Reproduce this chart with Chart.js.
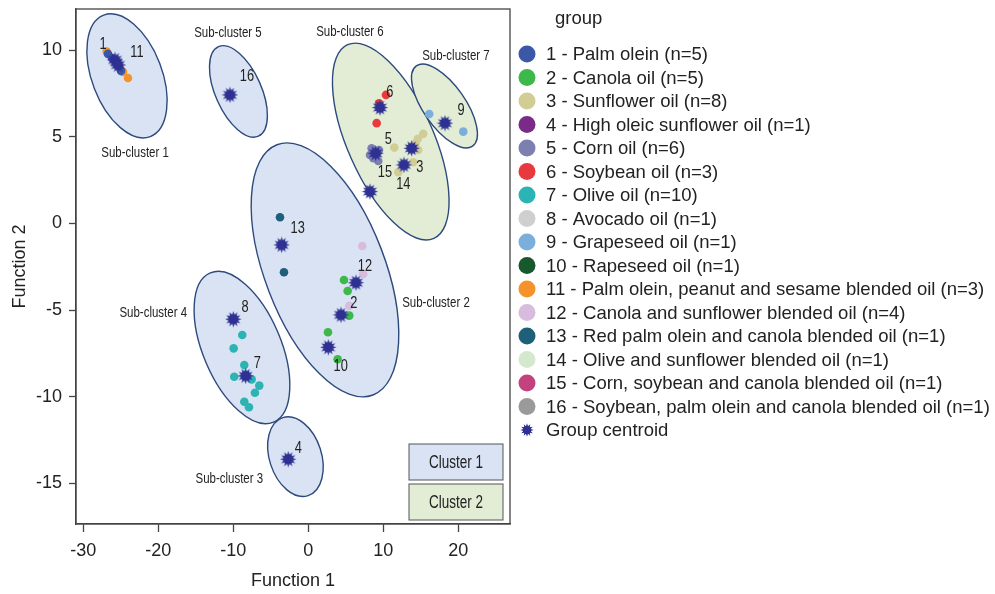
<!DOCTYPE html>
<html><head><meta charset="utf-8">
<script src="https://cdn.jsdelivr.net/npm/chart.js@4.4.1/dist/chart.umd.min.js"></script>
<style>html,body{margin:0;padding:0;background:#fff;}#wrap{width:995px;height:594px;position:relative;}</style>
</head><body><div id="wrap"><canvas id="c"></canvas></div>
<script>
// ---------- DATA ----------
const groupLabels = [
  '1 - Palm olein (n=5)', '2 - Canola oil (n=5)', '3 - Sunflower oil (n=8)',
  '4 - High oleic sunflower oil (n=1)', '5 - Corn oil (n=6)', '6 - Soybean oil (n=3)',
  '7 - Olive oil (n=10)', '8 - Avocado oil (n=1)', '9 - Grapeseed oil (n=1)',
  '10 - Rapeseed oil (n=1)', '11 - Palm olein, peanut and sesame blended oil (n=3)',
  '12 - Canola and sunflower blended oil (n=4)', '13 - Red palm olein and canola blended oil (n=1)',
  '14 - Olive and sunflower blended oil (n=1)', '15 - Corn, soybean and canola blended oil (n=1)',
  '16 - Soybean, palm olein and canola blended oil (n=1)'
];
const centroidLabel = 'Group centroid';

const g01 = [[-26.71,9.79],[-26.17,9.55],[-25.64,9.32],[-25.24,9.04],[-24.97,8.81]];
const g02 = [[4.76,-3.26],[5.25,-3.90],[5.47,-5.32],[2.63,-6.28],[3.92,-7.84]];
const g03 = [[15.33,5.17],[14.59,4.88],[14.32,4.63],[14.67,4.24],[11.47,4.38],[14.00,3.53],[12.00,2.96],[13.79,4.34]];
const g04 = [[-2.67,-13.61]];
const g05 = [[8.45,4.34],[9.43,4.24],[8.67,3.76],[9.33,3.61],[8.23,3.95],[8.99,4.05]];
const g06 = [[10.36,7.42],[9.43,6.94],[9.12,5.79]];
const g07 = [[-8.80,-6.44],[-9.95,-7.21],[-8.53,-8.17],[-9.87,-8.85],[-7.55,-9.00],[-6.53,-9.36],[-7.11,-9.77],[-8.53,-10.29],[-7.91,-10.61],[-8.35,-8.80]];
const g08 = [[-10.00,-5.53]];
const g09 = [[16.13,6.32],[20.67,5.30]];
const g10 = [[2.67,-7.15]];
const g11 = [[-26.88,9.92],[-24.71,8.75],[-24.04,8.40]];
const g12 = [[7.20,-1.30],[7.33,-2.92],[5.47,-4.75],[6.36,-3.42]];
const g13 = [[-3.77,0.36],[-3.24,-2.82]];
const g14 = [[12.76,3.38]];
const g15 = [[8.23,1.84]];
const g16 = [[-10.44,7.42]];
const groupData = [g01,g02,g03,g04,g05,g06,g07,g08,g09,g10,g11,g12,g13,g14,g15,g16];

const centroidX = [-25.77, 4.36, 13.79, -2.67, 8.99, 9.56, -8.35, -10.00, 18.23, 2.67, -25.37, 6.36, -3.55, 12.76, 8.23, -10.44];
const centroidY = [9.44, -5.28, 4.34, -13.61, 4.05, 6.69, -8.80, -5.53, 5.79, -7.15, 9.15, -3.42, -1.24, 3.38, 1.84, 7.42];

const xTickStep = 10, yTickStep = 5;

// ---------- STYLES / ANNOTATIONS ----------
const groupColors = ['#3a57a8','#3db84a','#d2cd94','#7a2b87','#7c7fb0','#e83a3c','#2cb4b4','#cfcfcf',
  '#7aafdc','#17582c','#f6922a','#d7bcde','#1e5f79','#d3e8cc','#c2427e','#9a9a9a'];
const centroidColor = '#2e3192';
const BLUE_FILL = '#dae3f3', GREEN_FILL = '#e3edd6', ELL_STROKE = '#2d4a7c';

// ellipse: center (data), semi-major a / semi-minor b (px), tilt (deg), fill
const ellipses = [
  {cx:-24.17, cy:8.52,  a:65,  b:35, t:21, fill:BLUE_FILL},
  {cx:-9.31,  cy:7.62,  a:49,  b:23, t:24, fill:BLUE_FILL},
  {cx:2.23,   cy:-2.68, a:134, b:60, t:21, fill:BLUE_FILL},
  {cx:-8.84,  cy:-7.16, a:81,  b:39, t:23, fill:BLUE_FILL},
  {cx:-1.71,  cy:-13.46,a:41,  b:26, t:18, fill:BLUE_FILL},
  {cx:11.0,   cy:4.73,  a:106, b:43, t:24, fill:GREEN_FILL},
  {cx:18.16,  cy:6.78,  a:49,  b:21, t:35, fill:GREEN_FILL}
];
const numLabels = [
  ['1',-27.37,10.31],['11',-22.84,9.84],['16',-8.17,8.46],['6',10.89,7.58],['5',10.67,4.82],
  ['3',14.89,3.22],['15',10.23,2.93],['14',12.67,2.22],['9',20.36,6.50],['13',-1.41,-0.28],
  ['12',7.56,-2.49],['2',6.09,-4.61],['10',4.32,-8.27],['8',-8.44,-4.84],['7',-6.80,-8.07],['4',-1.33,-12.98]
];
const subLabels = [
  ['Sub-cluster 1',-23.09,4.07],['Sub-cluster 5',-10.71,11.00],['Sub-cluster 6',5.56,11.06],
  ['Sub-cluster 7',19.69,9.67],['Sub-cluster 2',17.03,-4.56],['Sub-cluster 4',-20.67,-5.13],
  ['Sub-cluster 3',-10.53,-14.75]
];
const clusterBoxes = [['Cluster 1', BLUE_FILL],['Cluster 2', GREEN_FILL]];

const FONT = "'Liberation Sans', Arial, Helvetica, sans-serif";
Chart.defaults.font.family = FONT;
Chart.defaults.color = '#222';

function narrowText(ctx, t, x, y, size, sx) {
  ctx.save();
  ctx.translate(x, y);
  ctx.scale(sx, 1);
  ctx.font = size + 'px ' + FONT;
  ctx.textAlign = 'center'; ctx.textBaseline = 'middle';
  ctx.fillText(t, 0, 0);
  ctx.restore();
}

function makeStar(size, color) {
  const c = document.createElement('canvas');
  c.width = size; c.height = size;
  const x = c.getContext('2d');
  const r0 = size/2, r1 = size*0.27, n = 12;
  x.beginPath();
  for (let i = 0; i < n*2; i++) {
    const r = i % 2 ? r1 : r0 - 0.3;
    const ang = i * Math.PI / n - Math.PI/2;
    const px = size/2 + r*Math.cos(ang), py = size/2 + r*Math.sin(ang);
    i ? x.lineTo(px, py) : x.moveTo(px, py);
  }
  x.closePath();
  x.fillStyle = color; x.fill();
  x.beginPath(); x.arc(size/2, size/2, size*0.3, 0, Math.PI*2); x.fill();
  return c;
}
const starImg = makeStar(17, centroidColor);
const starLegend = makeStar(14, centroidColor);

const datasets = [{
  label: centroidLabel,
  data: centroidX.map((x, i) => ({x, y: centroidY[i]})),
  pointStyle: starImg, pointRadius: 8, order: 0,
  backgroundColor: centroidColor, borderColor: centroidColor
}];
groupData.forEach((pts, i) => datasets.push({
  label: groupLabels[i],
  data: pts.map(([x, y]) => ({x, y})),
  backgroundColor: groupColors[i], borderColor: groupColors[i],
  borderWidth: 0, pointRadius: 4.3, order: 1
}));

const overlay = {
  id: 'overlay',
  beforeDatasetsDraw(chart) {
    const {ctx, scales: {x, y}, chartArea: ca} = chart;
    ctx.save();
    ctx.beginPath(); ctx.rect(ca.left, ca.top, ca.width, ca.height); ctx.clip();
    ellipses.forEach(e => {
      ctx.beginPath();
      ctx.ellipse(x.getPixelForValue(e.cx), y.getPixelForValue(e.cy), e.b, e.a, -e.t*Math.PI/180, 0, Math.PI*2);
      ctx.fillStyle = e.fill; ctx.fill();
      ctx.lineWidth = 1.4; ctx.strokeStyle = ELL_STROKE; ctx.stroke();
    });
    ctx.restore();
  },
  afterDatasetsDraw(chart) {
    const {ctx, scales: {x, y}} = chart;
    ctx.save();
    ctx.fillStyle = '#222';
    numLabels.forEach(([t, dx, dy]) => narrowText(ctx, t, x.getPixelForValue(dx), y.getPixelForValue(dy), 16, 0.8));
    subLabels.forEach(([t, dx, dy]) => narrowText(ctx, t, x.getPixelForValue(dx), y.getPixelForValue(dy), 15.5, 0.74));
    ctx.restore();
  },
  afterDraw(chart) {
    const {ctx, chartArea: ca} = chart;
    ctx.save();
    // frame
    ctx.strokeStyle = '#444'; ctx.lineWidth = 1.3;
    ctx.strokeRect(ca.left, ca.top, ca.width, ca.height);
    // cluster boxes
    const bw = 94, bh = 36, gap = 4;
    clusterBoxes.forEach(([t, f], i) => {
      const bx = ca.right - 7 - bw;
      const by = ca.bottom - 4 - (clusterBoxes.length - i) * bh - (clusterBoxes.length - 1 - i) * gap;
      ctx.fillStyle = f; ctx.fillRect(bx, by, bw, bh);
      ctx.strokeStyle = '#555'; ctx.lineWidth = 1; ctx.strokeRect(bx, by, bw, bh);
      ctx.fillStyle = '#222';
      narrowText(ctx, t, bx + bw/2, by + bh/2 + 1, 18, 0.75);
    });
    // legend
    const lx = ca.right + 17, ly = 54, step = 23.5;
    ctx.fillStyle = '#222'; ctx.font = '18.5px ' + FONT;
    ctx.textAlign = 'left'; ctx.textBaseline = 'middle';
    ctx.fillText('group', lx + 28, 19);
    const items = chart.data.datasets.slice(1).concat([chart.data.datasets[0]]);
    items.forEach((ds, i) => {
      const cy = ly + i * step;
      if (ds.label === centroidLabel) {
        ctx.drawImage(starLegend, lx - starLegend.width/2, cy - starLegend.height/2);
      } else {
        ctx.beginPath(); ctx.arc(lx, cy, 8.5, 0, Math.PI*2);
        ctx.fillStyle = ds.backgroundColor; ctx.fill();
      }
      ctx.fillStyle = '#222';
      ctx.fillText(ds.label, lx + 19, cy + 1);
    });
    ctx.restore();
  }
};

new Chart(document.getElementById('c'), {
  type: 'scatter',
  data: { datasets },
  options: {
    responsive: true, maintainAspectRatio: false, animation: false,
    layout: { padding: { left: 0, top: 9, right: 485, bottom: 0 } },
    plugins: { legend: { display: false }, tooltip: { enabled: false } },
    scales: {
      x: {
        type: 'linear', min: -30.97, max: 26.9,
        ticks: { stepSize: xTickStep, includeBounds: false, font: { size: 18 }, color: '#222', padding: 8 },
        grid: { drawOnChartArea: false, drawTicks: true, tickLength: 8, tickColor: '#444', tickWidth: 1.3 },
        border: { display: true, color: '#444', width: 1.3 },
        title: { display: true, text: 'Function 1', font: { size: 18 }, color: '#222', padding: { top: 0, bottom: 2 } },
        afterFit(s) { s.height = 70; s.paddingLeft = 0; s.paddingRight = 0; }
      },
      y: {
        type: 'linear', min: -17.35, max: 12.38,
        ticks: { stepSize: yTickStep, includeBounds: false, font: { size: 18 }, color: '#222', padding: 7 },
        grid: { drawOnChartArea: false, drawTicks: true, tickLength: 7, tickColor: '#444', tickWidth: 1.3 },
        border: { display: true, color: '#444', width: 1.3 },
        title: { display: true, text: 'Function 2', font: { size: 18 }, color: '#222', padding: { top: 9, bottom: 0 } },
        afterFit(s) { s.width = 76; s.paddingTop = 0; s.paddingBottom = 0; }
      }
    }
  },
  plugins: [overlay]
});
</script></body></html>
